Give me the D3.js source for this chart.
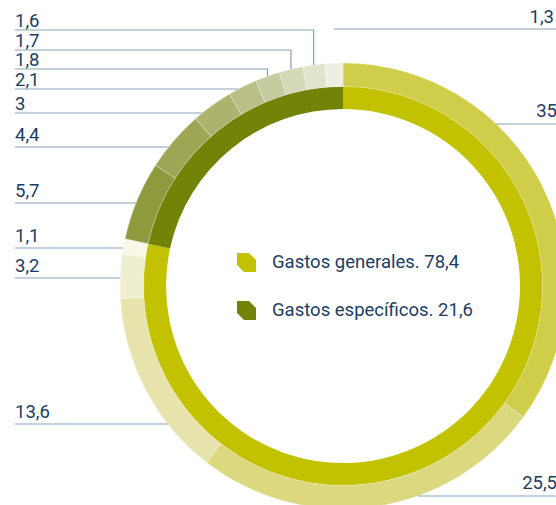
<!DOCTYPE html>
<html>
<head>
<meta charset="utf-8">
<script src="https://cdn.jsdelivr.net/npm/d3@7"></script>
<style>
  html, body { margin: 0; padding: 0; background: #ffffff; }
  svg { display: block; }
</style>
</head>
<body>
<svg id="chart" width="556" height="505"></svg>
<script>
// Inner ring: the two main spending groups
const groupNames = ["Gastos generales", "Gastos específicos"];
const groupValues = [78.4, 21.6];
const groupColors = ["#c3c200", "#728308"];

// Outer ring: breakdown, clockwise from 12 o'clock
const detailValues = [35, 25.5, 13.6, 3.2, 1.1, 5.7, 4.4, 3, 2.1, 1.8, 1.7, 1.6, 1.3];
const detailColors = ["#d0cd4b", "#dbd87f", "#e6e4ac", "#efeed0", "#f8f7e8",
                      "#8f9a3e", "#9ea655", "#acb36e", "#babf88", "#c7cba0",
                      "#d4d8b8", "#e1e3cd", "#eeefe2"];

// Callout placement for each outer slice (same order as detailValues)
const calloutSide  = ["right", "right", "left", "left", "left", "left", "left", "left", "left", "elbow", "elbow", "elbow", "top"];
const calloutLineY = [124, 496, 424, 278, 248, 203, 147, 113, 89, 69, 50, 30, 29];
const calloutTextY = [117, 489, 418, 272, 242, 197, 141, 110, 86, 66, 47, 27, 23];

const W = 556, H = 505;
const cx = 343, cy = 286;
const rInner0 = 177, rInner1 = 199.5, rOuter1 = 223;

const fmt = d3.formatLocale({decimal: ",", thousands: ".", grouping: [3], currency: ["", "€"]}).format(".1~f");

const svg = d3.select("#chart");
const g = svg.append("g").attr("transform", `translate(${cx},${cy})`);

const pie = d3.pie().sort(null).value(d => d).startAngle(0).endAngle(2 * Math.PI);

const innerArc = d3.arc().innerRadius(rInner0).outerRadius(rInner1);
const outerArc = d3.arc().innerRadius(rInner1).outerRadius(rOuter1);

g.selectAll("path.inner")
  .data(pie(groupValues))
  .join("path")
  .attr("class", "inner")
  .attr("d", innerArc)
  .attr("fill", (d, i) => groupColors[i]);

const detailArcs = pie(detailValues);
g.selectAll("path.outer")
  .data(detailArcs)
  .join("path")
  .attr("class", "outer")
  .attr("d", outerArc)
  .attr("fill", (d, i) => detailColors[i])
  .attr("stroke", "#ffffff")
  .attr("stroke-opacity", 0.45)
  .attr("stroke-width", 0.6);

// Callout lines and value labels
const lineColor = "#86a3b8";
const textColor = "#1c3d63";
const callouts = svg.append("g");

detailArcs.forEach((d, i) => {
  const side = calloutSide[i];
  const ly = calloutLineY[i];
  const mid = (d.startAngle + d.endAngle) / 2;
  const mx = cx + rOuter1 * Math.sin(mid);
  let pathD, tx, anchor;
  if (side === "left") {
    const dx = Math.sqrt(Math.max(0, rOuter1 * rOuter1 - (ly - cy) * (ly - cy)));
    pathD = `M15,${ly}H${cx - dx}`;
    tx = 15; anchor = "start";
  } else if (side === "right") {
    const dx = Math.sqrt(Math.max(0, rOuter1 * rOuter1 - (ly - cy) * (ly - cy)));
    pathD = `M${cx + dx},${ly}H${W}`;
    tx = W + 1; anchor = "end";
  } else if (side === "elbow") {
    const ey = cy - Math.sqrt(rOuter1 * rOuter1 - (mx - cx) * (mx - cx));
    pathD = `M15,${ly}H${mx}V${ey}`;
    tx = 15; anchor = "start";
  } else {
    pathD = `M${mx},${ly}H${W}`;
    tx = W - 2; anchor = "end";
  }
  callouts.append("path")
    .attr("d", pathD)
    .attr("fill", "none")
    .attr("stroke", lineColor)
    .attr("stroke-width", 1.2);
  callouts.append("text")
    .attr("x", tx)
    .attr("y", calloutTextY[i])
    .attr("text-anchor", anchor)
    .attr("font-family", "Roboto, 'Noto Sans', sans-serif")
    .attr("font-size", 18.5)
    .attr("fill", textColor)
    .text(fmt(detailValues[i]));
});

// Legend inside the ring
const legend = svg.append("g").attr("transform", "translate(237,253)");
const s = 19, c = 7;
const iconPath = `M0,0H${s - c}L${s},${c}V${s}H${c}L0,${s - c}Z`;
groupNames.forEach((name, i) => {
  const row = legend.append("g").attr("transform", `translate(0,${i * 48})`);
  row.append("path").attr("d", iconPath).attr("fill", groupColors[i]);
  row.append("text")
    .attr("x", 35)
    .attr("y", 15)
    .attr("font-family", "Roboto, 'Noto Sans', sans-serif")
    .attr("font-size", 18.5)
    .attr("fill", textColor)
    .text(`${name}. ${fmt(groupValues[i])}`);
});
</script>
</body>
</html>
